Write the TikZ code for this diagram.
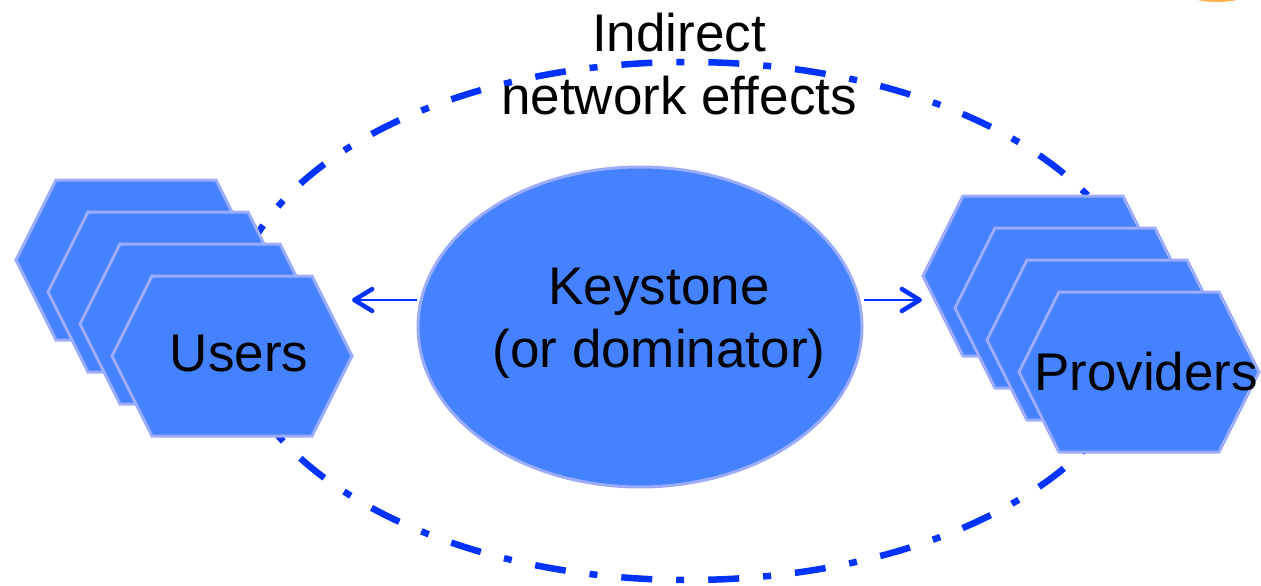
\documentclass[tikz,border=0pt]{standalone}
\usepackage{fontspec}
\setmainfont{Liberation Sans}
\usetikzlibrary{shapes.geometric, arrows.meta}

\definecolor{cellblue}{RGB}{68,130,255}
\definecolor{cellrim}{RGB}{155,172,255}
\definecolor{linkblue}{RGB}{0,51,255}

\begin{document}
\begin{tikzpicture}[x=1pt, y=-1pt,
    hexcell/.style={fill=cellblue, draw=cellrim, line width=3pt, line join=miter},
    effectline/.style={draw=linkblue, line width=6.5pt, dash pattern=on 31pt off 24pt on 8pt off 24pt},
    linkarrow/.style={draw=linkblue, line width=2.5pt, -{Straight Barb[length=18pt, width=22pt, line width=4.5pt, round]}},
    bigtext/.style={font=\fontsize{53}{63}\selectfont, inner sep=0pt, align=center}]
\useasboundingbox (0,0) rectangle (1261,586);

% orange glow cut by the top edge
\fill[orange!85!yellow, opacity=0.7] (1217,-5) ellipse [x radius=28, y radius=7];

% indirect network effects loop
\draw[effectline] (688,321) ellipse [x radius=457, y radius=259];

% stacks of hexagons
\foreach \k in {0,...,3} {
    \draw[hexcell, shift={(136+32*\k,260+32*\k)}] (-120,0) -- (-80,-80) -- (80,-80) -- (120,0) -- (80,80) -- (-80,80) -- cycle;
}
\foreach \k in {0,...,3} {
    \draw[hexcell, shift={(1043+32*\k,276+32*\k)}] (-120,0) -- (-80,-80) -- (80,-80) -- (120,0) -- (80,80) -- (-80,80) -- cycle;
}
\node[bigtext, anchor=base] (users) at (239,371) {Users};
\node[bigtext, anchor=base] (providers) at (1146,390) {Providers};

% keystone
\node[ellipse, fill=cellblue, draw=cellrim, line width=3pt, minimum width=444pt, minimum height=320pt, inner sep=0pt] (keystone) at (640,327) {};
\node[bigtext] (keytext) at (659,323) {Keystone\\(or dominator)};

\coordinate (userstip) at (352,300);
\coordinate (provtip) at (922,300);
\draw[linkarrow] (keystone.west |- userstip) -- (userstip);
\draw[linkarrow] (keystone.east |- provtip) -- (provtip);

\node[bigtext] (effects) at (679,64) {Indirect\\network effects};

\end{tikzpicture}
\end{document}
